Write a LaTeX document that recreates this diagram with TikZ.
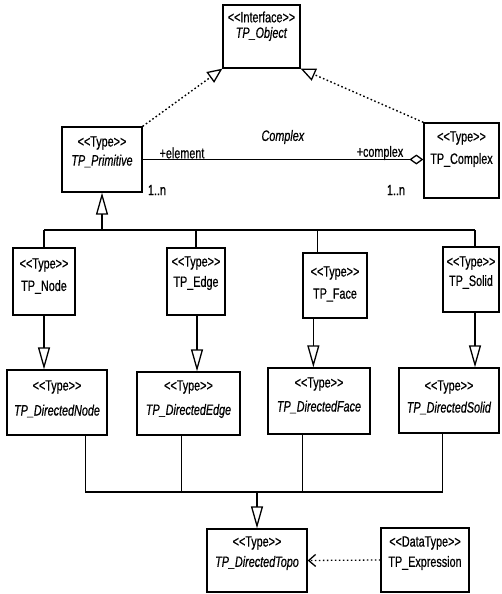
\documentclass[tikz,border=0pt]{standalone}
\usepackage{fontspec}
\setmainfont[FakeStretch=0.72,FakeBold=0.6]{Liberation Sans}
\usetikzlibrary{arrows.meta,calc}
\newcommand\stp[1]{<\kern0pt<#1>\kern0pt>}
\begin{document}
\begin{tikzpicture}[x=1pt,y=-1pt,
  font=\fontsize{15}{17}\selectfont,
  box/.style={draw, line width=1.3pt, inner sep=0pt, fill=white},
  txt/.style={inner sep=0pt, anchor=center},
  ln/.style={line width=1.3pt},
  gen/.style={ln, -{Triangle[open,length=22pt,width=12pt,line width=1.3pt]}},
  realz/.style={line width=1.4pt, dash pattern=on 1.6pt off 2.4pt,
     -{Triangle[open,length=15pt,width=13pt,line width=1.3pt]}},
  dep/.style={line width=1.3pt, dash pattern=on 1.6pt off 2.4pt,
     -{Straight Barb[length=7pt,width=12pt,line width=1.3pt]}},
  agg/.style={ln, -{Diamond[open,length=14pt,width=10pt,line width=1.3pt]}}]
\useasboundingbox (0,0) rectangle (502,594);

% boxes
\node[box, minimum width=77pt, minimum height=63pt] (obj) at (261.5,36.5) {};
\node[box, minimum width=80pt, minimum height=65pt] (prim) at (102,159.5) {};
\node[box, minimum width=75pt, minimum height=75pt] (cplx) at (461.5,160.5) {};
\node[box, minimum width=62pt, minimum height=67pt] (tnode) at (44,281.5) {};
\node[box, minimum width=58pt, minimum height=67pt] (tedge) at (196,281.5) {};
\node[box, minimum width=64pt, minimum height=65pt] (tface) at (335,285.5) {};
\node[box, minimum width=56pt, minimum height=65pt] (tsolid) at (471,279.5) {};
\node[box, minimum width=100pt, minimum height=65pt] (dnode) at (57,402.5) {};
\node[box, minimum width=103pt, minimum height=63pt] (dedge) at (188.5,403.5) {};
\node[box, minimum width=102pt, minimum height=66pt] (dface) at (319,401) {};
\node[box, minimum width=100pt, minimum height=65pt] (dsolid) at (449,400.5) {};
\node[box, minimum width=100pt, minimum height=63pt] (dtopo) at (257,560.5) {};
\node[box, minimum width=88pt, minimum height=64pt] (expr) at (425,560) {};

% texts
\node[txt] (objS) at (261.5,17) {\stp{Interface}};
\node[txt] (objN) at (261.5,34) {\textit{TP\_Object}};
\node[txt] (primS) at (102,143) {\stp{Type}};
\node[txt] (primN) at (102,161) {\textit{TP\_Primitive}};
\node[txt] (cplxS) at (461.5,138) {\stp{Type}};
\node[txt] (cplxN) at (461.5,160) {TP\_Complex};
\node[txt] (tnodeS) at (44,265) {\stp{Type}};
\node[txt] (tnodeN) at (44,287) {TP\_Node};
\node[txt] (tedgeS) at (196,263) {\stp{Type}};
\node[txt] (tedgeN) at (196,283) {TP\_Edge};
\node[txt] (tfaceS) at (335,273) {\stp{Type}};
\node[txt] (tfaceN) at (335,295) {TP\_Face};
\node[txt] (tsolidS) at (471,263) {\stp{Type}};
\node[txt] (tsolidN) at (471,282) {TP\_Solid};
\node[txt] (dnodeS) at (57,387) {\stp{Type}};
\node[txt] (dnodeN) at (57,411) {\textit{TP\_DirectedNode}};
\node[txt] (dedgeS) at (188.5,387) {\stp{Type}};
\node[txt] (dedgeN) at (188.5,411) {\textit{TP\_DirectedEdge}};
\node[txt] (dfaceS) at (319,384) {\stp{Type}};
\node[txt] (dfaceN) at (319,407) {\textit{TP\_DirectedFace}};
\node[txt] (dsolidS) at (449,387) {\stp{Type}};
\node[txt] (dsolidN) at (449,408) {\textit{TP\_DirectedSolid}};
\node[txt] (dtopoS) at (257,543) {\stp{Type}};
\node[txt] (dtopoN) at (257,563) {\textit{TP\_DirectedTopo}};
\node[txt] (exprS) at (425,543) {\stp{DataType}};
\node[txt] (exprN) at (425,563) {TP\_Expression};

% association labels
\node[txt] (lElem) at (182,153) {+element};
\node[txt] (lCplx) at (283,137) {\textit{Complex}};
\node[txt] (lCplxR) at (380,153) {+complex};
\node[txt] (lMulL) at (157,190) {1..n};
\node[txt] (lMulR) at (396,190) {1..n};

% realizations to TP_Object
\draw[realz] (prim.north east) -- (obj.south west);
\draw[realz] (cplx.north west) -- (obj.south east);

% aggregation
\draw[agg] (prim.east) -- (prim.east -| cplx.west);

% upper generalization tree
\coordinate (barA) at (0,230);
\coordinate (tfx) at ($(tface.north west)+(15,0)$);
\coordinate (tsx) at ($(tsolid.north)+(4,0)$);
\draw[gen] (prim.south |- barA) -- (prim.south);
\draw[ln] (tnode.north |- barA) -- (tsx |- barA);
\draw[ln] (tnode.north |- barA) -- (tnode.north);
\draw[ln] (tedge.north |- barA) -- (tedge.north);
\draw[ln] (tfx |- barA) -- (tfx);
\draw[ln] (tsx |- barA) -- (tsx);

% Type -> Directed
\coordinate (tfb) at ($(tface.south west)+(11,0)$);
\coordinate (tsb) at ($(tsolid.south)+(4,0)$);
\coordinate (teb) at ($(tedge.south)+(1,0)$);
\draw[gen] (tnode.south) -- (tnode.south |- dnode.north);
\draw[gen] (teb) -- (teb |- dedge.north);
\draw[gen] (tfb) -- (tfb |- dface.north);
\draw[gen] (tsb) -- (tsb |- dsolid.north);

% lower generalization tree
\coordinate (barB) at (0,492);
\coordinate (dnb) at ($(dnode.south west)+(79,0)$);
\coordinate (deb) at ($(dedge.south west)+(45,0)$);
\coordinate (dfb) at ($(dface.south west)+(35,0)$);
\coordinate (dsb) at ($(dsolid.south west)+(44,0)$);
\draw[ln] (dnb) -- (dnb |- barB) -- (dsb |- barB) -- (dsb);
\draw[ln] (deb) -- (deb |- barB);
\draw[ln] (dfb) -- (dfb |- barB);
\draw[gen] (dtopo.north |- barB) -- (dtopo.north);

% dependency
\draw[dep] (expr.west) -- (dtopo.east);
\end{tikzpicture}
\end{document}
